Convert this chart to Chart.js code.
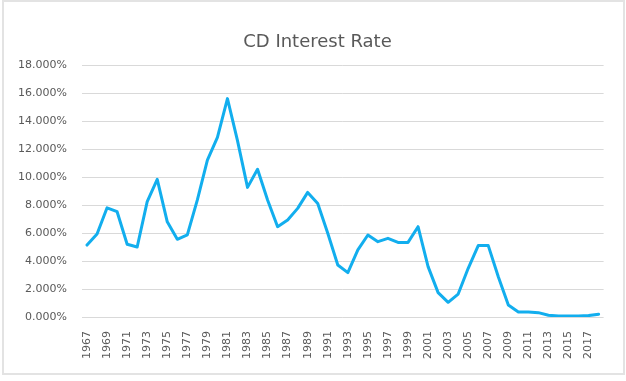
<!DOCTYPE html>
<html>
<head>
<meta charset="utf-8">
<script src="https://cdn.jsdelivr.net/npm/chart.js@4/dist/chart.umd.min.js"></script>
<style>
  html, body { margin: 0; padding: 0; background: #ffffff; }
  #wrap { position: relative; width: 626px; height: 381px; }
  #frame { position: absolute; left: 2px; top: 0px; width: 619px; height: 371px; border: 2px solid #e3e3e3; box-sizing: content-box; pointer-events: none; }
  canvas { position: absolute; left: 0; top: 0; }
</style>
</head>
<body>
<div id="wrap">
  <canvas id="c" width="626" height="381"></canvas>
  <div id="frame"></div>
</div>
<script>
const years = [
  1967, 1968, 1969, 1970, 1971, 1972, 1973, 1974, 1975, 1976,
  1977, 1978, 1979, 1980, 1981, 1982, 1983, 1984, 1985, 1986,
  1987, 1988, 1989, 1990, 1991, 1992, 1993, 1994, 1995, 1996,
  1997, 1998, 1999, 2000, 2001, 2002, 2003, 2004, 2005, 2006,
  2007, 2008, 2009, 2010, 2011, 2012, 2013, 2014, 2015, 2016,
  2017, 2018
];
const cdRate = [
  5.14, 5.93, 7.80, 7.52, 5.20, 5.00, 8.24, 9.83, 6.80, 5.55,
  5.86, 8.36, 11.20, 12.83, 15.60, 12.60, 9.26, 10.55, 8.36, 6.45,
  6.93, 7.76, 8.90, 8.10, 5.98, 3.71, 3.17, 4.79, 5.86, 5.38,
  5.62, 5.33, 5.33, 6.45, 3.60, 1.74, 1.05, 1.64, 3.48, 5.10,
  5.10, 2.88, 0.86, 0.36, 0.36, 0.31, 0.12, 0.07, 0.07, 0.07,
  0.10, 0.20
];
const yTicks = [0, 2, 4, 6, 8, 10, 12, 14, 16, 18];
const titleText = 'CD Interest Rate';

new Chart(document.getElementById('c'), {
  type: 'line',
  data: {
    labels: years.map(String),
    datasets: [{
      label: 'CD Interest Rate',
      data: cdRate,
      yAxisID: 'y',
      borderColor: '#12aeee',
      backgroundColor: '#12aeee',
      borderWidth: 3,
      pointRadius: 0,
      tension: 0,
      fill: false,
      borderJoinStyle: 'round',
      borderCapStyle: 'round'
    }]
  },
  options: {
    responsive: false,
    animation: false,
    devicePixelRatio: 1,
    layout: { padding: { left: 9, right: 0, top: 0, bottom: 13 } },
    plugins: {
      legend: { display: false },
      tooltip: { enabled: false },
      title: {
        display: true,
        text: titleText,
        color: '#595959',
        font: { family: 'DejaVu Sans', size: 18, weight: 'normal', lineHeight: 1.2 },
        padding: { top: 32, bottom: 11.4 }
      }
    },
    scales: {
      x: {
        type: 'category',
        offset: true,
        grid: { display: false, drawTicks: false },
        border: { display: false },
        ticks: {
          autoSkip: false,
          minRotation: 90,
          maxRotation: 90,
          padding: 14,
          color: '#595959',
          font: { family: 'DejaVu Sans', size: 11 },
          callback: function(v, i) { return i % 2 === 0 ? this.getLabelForValue(v) : ''; }
        },
        afterFit: s => { s.height = 51; }
      },
      y: {
        position: 'left',
        min: 0,
        max: 18,
        afterBuildTicks: s => { s.ticks = yTicks.map(v => ({ value: v })); },
        grid: { color: '#d9d9d9', lineWidth: 1, drawTicks: false },
        border: { display: false },
        ticks: {
          padding: 15,
          color: '#595959',
          font: { family: 'DejaVu Sans', size: 11 },
          callback: v => v.toFixed(3) + '%'
        },
        afterFit: s => { s.width = 73; }
      },
      yRight: {
        position: 'right',
        display: true,
        grid: { display: false, drawTicks: false },
        border: { display: false },
        ticks: { display: false },
        afterFit: s => { s.width = 20; }
      }
    }
  }
});
</script>
</body>
</html>
